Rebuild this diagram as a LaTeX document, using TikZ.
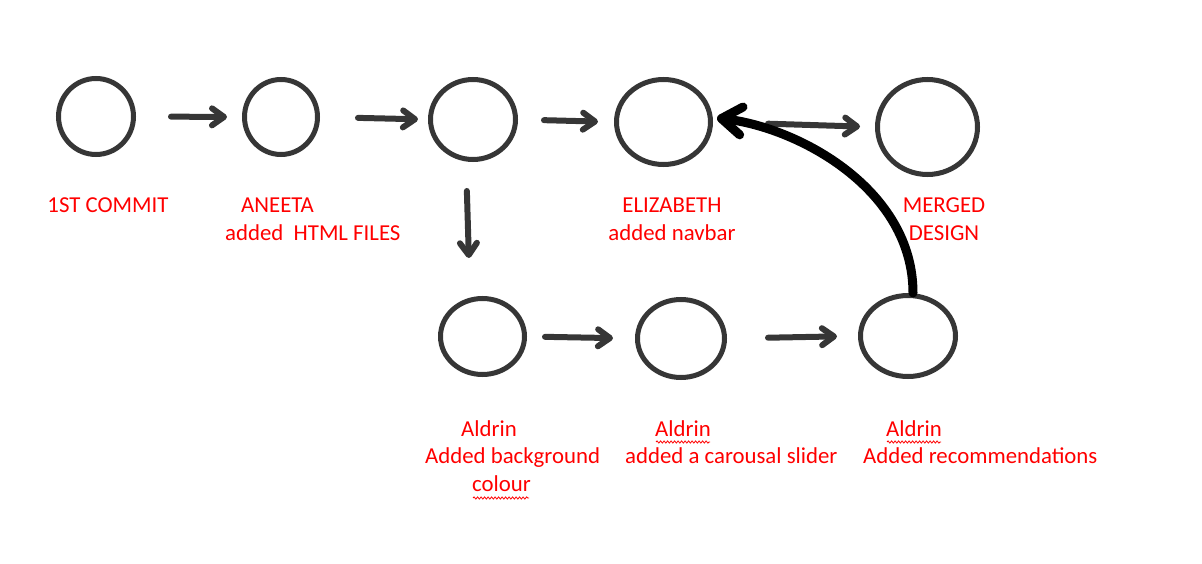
\documentclass[tikz,border=0pt]{standalone}
\usepackage{fontspec}
\setmainfont{Carlito}
\usetikzlibrary{
    arrows.meta,
    shapes.geometric,
    decorations.pathmorphing,
    positioning
}
\definecolor{ink}{HTML}{363636}
\definecolor{notered}{HTML}{FF0000}

\begin{document}
\begin{tikzpicture} [x=1pt, y=-1pt,
    commit/.style={ellipse, draw=ink, line width=5pt, inner sep=0pt},
    link/.style={draw=ink, line width=6pt, line cap=round,
        -{Straight Barb[round,length=12pt,width=17pt]}},
    merge/.style={draw=black, line width=9pt, line cap=round,
        -{Straight Barb[round,length=20pt,width=28pt]}},
    msg/.style={text=notered, font=\fontsize{22.8}{27.5}\selectfont,
        inner sep=0pt, anchor=north west, align=left},
    squiggle/.style={draw=notered, line width=0.8pt, decorate,
        decoration={snake, amplitude=1.1pt, segment length=3.5pt}}
    ]
    \useasboundingbox (0,0) rectangle (1202,564);

    % commits
    \node[commit, minimum width=75pt,  minimum height=76pt] (c1) at (96,116.5)   {};
    \node[commit, minimum width=73pt,  minimum height=75pt] (c2) at (281,117)    {};
    \node[commit, minimum width=85pt,  minimum height=80pt] (c3) at (473,119.5)  {};
    \node[commit, minimum width=94pt,  minimum height=85pt] (c4) at (663.5,122)  {};
    \node[commit, minimum width=100pt, minimum height=95pt] (c5) at (927.5,127)  {};
    \node[commit, minimum width=84pt,  minimum height=76pt] (c6) at (482.5,336.5){};
    \node[commit, minimum width=87pt,  minimum height=78pt] (c7) at (681,338.5)  {};
    \node[commit, minimum width=95pt,  minimum height=81pt] (c8) at (908,336)    {};

    % messages
    \node[msg, anchor=north] (m1) at (108,198) {1ST COMMIT};
    \node[msg] (m2) at (225,198) {\hspace*{16pt}ANEETA\\added\ \ HTML FILES};
    \node[msg, anchor=north, align=center] (m4) at (672,198) {ELIZABETH\\added navbar};
    \node[msg, anchor=north, align=center] (m5) at (944,198) {MERGED\\DESIGN};
    \node[msg] (m6) at (425,420)
        {\hspace*{36pt}Aldrin\\Added background\\\hspace*{47pt}colour};
    \node[msg] (m7) at (625,420) {\hspace*{30pt}Aldrin\\added a carousal slider};
    \node[msg] (m8) at (863,420) {\hspace*{23pt}Aldrin\\Added recommendations};

    % spell check marks
    \draw[squiggle] (656,442) -- (710,442);
    \draw[squiggle] (887,442) -- (941,442);
    \draw[squiggle] (473,498) -- (529,498);

    % history
    \draw[link, shorten <=35pt, shorten >=15pt] (c1.east) -- (c2.west);
    \draw[link, shorten <=38pt, shorten >=10pt] (c2.east) -- (c3.west);
    \draw[link, shorten <=26pt, shorten >=16pt] (c3.east) -- (c4.west);
    \draw[link, shorten <=55pt, shorten >=15pt] (c4.east) -- (c5.west);
    \draw[link, shorten <=29pt, shorten >=38pt] ([xshift=-7pt]c3.south) -- ([xshift=-12.5pt]c6.north);
    \draw[link, shorten <=18pt, shorten >=22pt] (c6.east) -- (c7.west);
    \draw[link, shorten <=41pt, shorten >=21pt] (c7.east) -- (c8.west);

    % merge back
    \draw[merge] ([xshift=5pt]c8.north) .. controls (913,190) and (800,128) .. ([shift={(4pt,4pt)}]c4.east);
\end{tikzpicture}
\end{document}
